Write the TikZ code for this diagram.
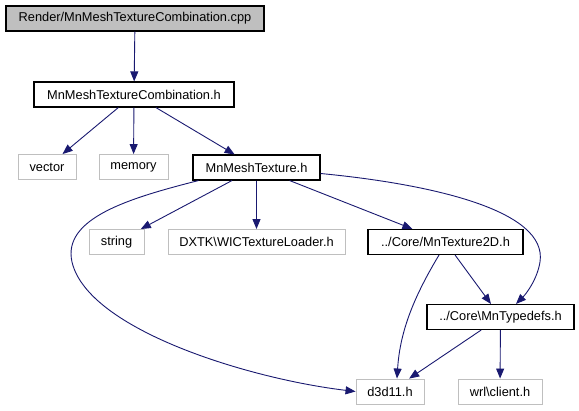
\documentclass[tikz,border=0pt]{standalone}
\usepackage{fontspec}
\setmainfont{Liberation Sans}
\usetikzlibrary{arrows.meta}
\definecolor{edgeblue}{HTML}{191970}
\definecolor{lightgray}{HTML}{BFBFBF}
\begin{document}
\begin{tikzpicture}[x=1pt,y=-1pt,
  box/.style={draw=black,line width=1.1pt,fill=white,inner sep=0pt,minimum height=25pt,font=\fontsize{12.8}{15}\selectfont},
  ext/.style={draw=lightgray,line width=0.9pt,fill=white,inner sep=0pt,minimum height=25pt,font=\fontsize{12.8}{15}\selectfont},
  root/.style={box,fill=lightgray},
  dep/.style={draw=edgeblue,line width=0.9pt,-{Triangle[length=10pt,width=8pt]}}]
\useasboundingbox (0,0) rectangle (579,411);
\node[root,minimum width=258pt] (cpp) at (135,18.5) {Render/MnMeshTextureCombination.cpp};
\node[box,minimum width=200pt] (h) at (134,94.5) {MnMeshTextureCombination.h};
\node[ext,minimum width=58pt] (vec) at (47,167) {vector};
\node[ext,minimum width=69pt] (mem) at (133.5,167) {memory};
\node[box,minimum width=127pt] (mt) at (256.5,167.5) {MnMeshTexture.h};
\node[ext,minimum width=55pt] (str) at (116.5,242) {string};
\node[ext,minimum width=177pt] (dx) at (256.5,242) {DXTK\textbackslash WICTextureLoader.h};
\node[box,minimum width=155pt] (tx) at (445.5,242) {../Core/MnTexture2D.h};
\node[box,minimum width=147pt] (ty) at (500.5,317) {../Core\textbackslash MnTypedefs.h};
\node[ext,minimum width=68pt] (d3) at (390,391.5) {d3d11.h};
\node[ext,minimum width=84pt] (wrl) at (500,391.5) {wrl\textbackslash client.h};

\draw[dep] (cpp) -- (h);
\draw[dep] (h) -- (vec);
\draw[dep] (h) -- (mem);
\draw[dep] (h) -- (mt);
\draw[dep] (mt) -- (str);
\draw[dep] (mt) -- (dx);
\draw[dep] (mt) -- (tx);
\draw[dep] ([xshift=6pt]mt.south west) .. controls (130,198) and (62,218) .. (72,262)
   .. controls (88,330) and (250,379) .. (d3.west);
\draw[dep] ([yshift=-6pt]mt.east) .. controls (430,184) and (548,210) .. (540,262)
   .. controls (537,280) and (526,294) .. ([xshift=15.5pt]ty.north);
\draw[dep] ([xshift=-6.5pt]tx.south) .. controls (415,295) and (400,330) .. ([xshift=7pt]d3.north);
\draw[dep] (tx) -- (ty);
\draw[dep] (ty) -- (d3);
\draw[dep] (ty) -- (wrl);
\end{tikzpicture}
\end{document}
